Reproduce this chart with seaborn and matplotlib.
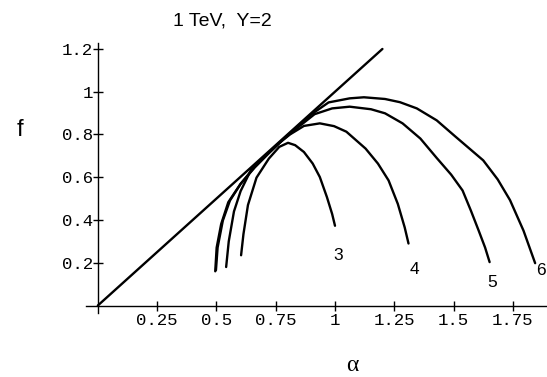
import numpy as np
import pandas as pd
import matplotlib
matplotlib.use("Agg")
import matplotlib.pyplot as plt
import seaborn as sns

sns.set_theme(style="white")
plt.rcParams["font.family"] = ["Liberation Sans", "DejaVu Sans"]

# ---- data ----
title = "1 TeV,  Y=2"
x_label = "α"
y_label = "f"
x_ticks = [0.25, 0.5, 0.75, 1.0, 1.25, 1.5, 1.75]
x_tick_labels = ["0.25", "0.5", "0.75", "1", "1.25", "1.5", "1.75"]
y_ticks = [0.2, 0.4, 0.6, 0.8, 1.0, 1.2]
y_tick_labels = ["0.2", "0.4", "0.6", "0.8", "1", "1.2"]

diag_alpha = [0.0, 1.2]
diag_f = [0.0, 1.2]

c3_alpha = [0.604, 0.614, 0.633, 0.669, 0.721, 0.765, 0.802, 0.832, 0.869, 0.906, 0.936, 0.966, 0.988, 1.000]
c3_f = [0.235, 0.334, 0.470, 0.598, 0.687, 0.742, 0.761, 0.750, 0.718, 0.664, 0.601, 0.507, 0.428, 0.373]

c4_alpha = [0.541, 0.552, 0.574, 0.602, 0.646, 0.706, 0.765, 0.810, 0.869, 0.936, 0.996, 1.048, 1.129, 1.181, 1.226, 1.265, 1.294, 1.310]
c4_f = [0.180, 0.300, 0.440, 0.535, 0.635, 0.700, 0.760, 0.800, 0.840, 0.852, 0.839, 0.813, 0.734, 0.664, 0.585, 0.475, 0.365, 0.290]

c5_alpha = [0.498, 0.505, 0.527, 0.557, 0.602, 0.661, 0.721, 0.780, 0.840, 0.914, 0.988, 1.062, 1.152, 1.211, 1.285, 1.360, 1.429, 1.490, 1.538, 1.573, 1.606, 1.633, 1.652]
c5_f = [0.165, 0.271, 0.397, 0.491, 0.569, 0.645, 0.712, 0.775, 0.830, 0.895, 0.922, 0.930, 0.918, 0.899, 0.852, 0.781, 0.690, 0.612, 0.538, 0.444, 0.350, 0.271, 0.203]

c6_alpha = [0.495, 0.501, 0.520, 0.550, 0.602, 0.661, 0.721, 0.780, 0.840, 0.899, 0.973, 1.062, 1.122, 1.211, 1.274, 1.345, 1.429, 1.508, 1.625, 1.686, 1.738, 1.795, 1.844]
c6_f = [0.160, 0.271, 0.381, 0.483, 0.569, 0.648, 0.715, 0.776, 0.836, 0.893, 0.950, 0.969, 0.974, 0.966, 0.951, 0.922, 0.866, 0.790, 0.679, 0.590, 0.493, 0.350, 0.198]

curve_names = ["3", "4", "5", "6"]
label_alpha = [1.015, 1.337, 1.661, 1.870]
label_f = [0.232, 0.169, 0.107, 0.165]

# ---- figure ----
fig = plt.figure(figsize=(5.47, 3.77), dpi=100)
ax = fig.add_axes([0.1572, 0.1698, 0.8428, 0.7162])

curves = [(c3_alpha, c3_f), (c4_alpha, c4_f), (c5_alpha, c5_f), (c6_alpha, c6_f)]
frames = []
for name, (a, f) in zip(curve_names, curves):
    frames.append(pd.DataFrame({"alpha": a, "f": f, "curve": name}))
df = pd.concat(frames, ignore_index=True)

sns.lineplot(x=diag_alpha, y=diag_f, ax=ax, color="black", lw=1.7, sort=False, estimator=None)
for name in curve_names:
    sub = df[df["curve"] == name]
    sns.lineplot(data=sub, x="alpha", y="f", ax=ax, color="black", lw=1.7,
                 sort=False, estimator=None, legend=False)

for name, a, f in zip(curve_names, label_alpha, label_f):
    ax.text(a, f, name, ha="center", va="center", fontsize=12.5,
            family=["Liberation Sans", "DejaVu Sans"], color="black")

ax.set_xlim(-0.05, 1.894)
ax.set_ylim(-0.035, 1.228)
for s in ["top", "right"]:
    ax.spines[s].set_visible(False)
for s in ["left", "bottom"]:
    ax.spines[s].set_position(("data", 0))
    ax.spines[s].set_color("black")
    ax.spines[s].set_linewidth(1.0)

ax.set_xticks(x_ticks)
ax.set_xticklabels(x_tick_labels)
ax.set_yticks(y_ticks)
ax.set_yticklabels(y_tick_labels)
ax.tick_params(axis="both", direction="inout", length=7, width=1.0, color="black",
               labelsize=12.5, labelcolor="black", bottom=True, left=True)
ax.tick_params(axis="x", pad=2)
ax.tick_params(axis="y", pad=0)
for lab in ax.get_xticklabels() + ax.get_yticklabels():
    lab.set_family(["Liberation Mono", "DejaVu Sans Mono"])
ax.set_xlabel("")
ax.set_ylabel("")
ax.grid(False)
ax.set_facecolor("white")

fig.text(0.406, 0.944, title, ha="center", va="center", fontsize=14, color="black")
fig.text(0.037, 0.655, y_label, ha="center", va="center", fontsize=17, color="black")
fig.text(0.644, 0.03, x_label, ha="center", va="center", fontsize=17, color="black",
         family=["Liberation Serif", "DejaVu Serif"])

fig.savefig("out.png", dpi=100)
